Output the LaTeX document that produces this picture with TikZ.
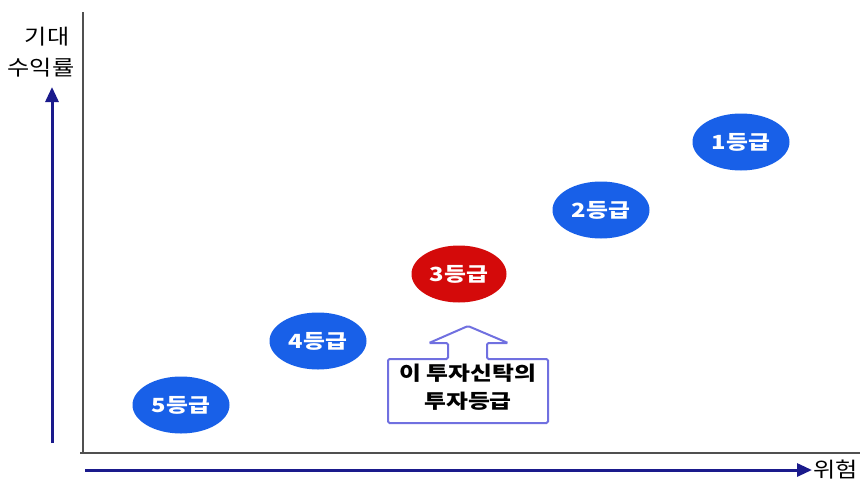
\documentclass[tikz,border=0pt]{standalone}
\usepackage{fontspec}
\newfontfamily\kr{Noto Sans CJK KR}[FakeStretch=1.15]
\newfontfamily\krw{Noto Sans CJK KR}[FakeStretch=1.22]
\usetikzlibrary{arrows.meta,shapes.geometric}
\definecolor{gradeblue}{RGB}{24,96,232}
\definecolor{gradered}{RGB}{212,10,10}
\definecolor{navy}{RGB}{26,26,140}
\definecolor{axisgray}{RGB}{80,80,80}
\definecolor{calloutline}{RGB}{112,112,224}
\begin{document}
\begin{tikzpicture}[x=1pt,y=-1pt,
  grade/.style={ellipse,fill=gradeblue,minimum width=97pt,minimum height=57pt,inner sep=0pt,
    text=white,font=\krw\bfseries\fontsize{19.5}{20}\selectfont},
  axisline/.style={draw=axisgray,line width=1.8pt},
  riskarrow/.style={draw=navy,line width=3pt,-{Triangle[length=15pt,width=13pt]}},
  axislabel/.style={font=\kr\fontsize{21}{22}\selectfont,inner sep=0pt},
  callout/.style={draw=calloutline,line width=2pt,fill=white,rounded corners=1.5pt}]
\useasboundingbox (0,0) rectangle (860,483);
% axes
\coordinate (ytop) at (83,12);
\coordinate (origin) at (83,453);
\coordinate (xend) at (860,453);
\coordinate (xstart) at (80,453);
\draw[axisline] (ytop) -- (origin);
\draw[axisline] (xstart) -- (xend);
% risk/return arrows
\coordinate (ua) at (52,443);
\coordinate (ub) at (52,87);
\draw[riskarrow] (ua) -- (ub);
\coordinate (ra) at (85,470);
\coordinate (rb) at (812,470);
\draw[riskarrow] (ra) -- (rb);
\node[axislabel] (ylab1) at (47,37) {기대};
\node[axislabel] (ylab2) at (41,68) {수익률};
\node[axislabel,anchor=west] (xlab) at (813,470) {위험};
% grades
\node[grade] (g5) at (181,405) {5등급};
\node[grade] (g4) at (318,341) {4등급};
\node[grade,fill=gradered,minimum width=95pt] (g3) at (459,274) {3등급};
\node[grade] (g2) at (601,210) {2등급};
\node[grade] (g1) at (741,142) {1등급};
% callout
\draw[callout] (388,359) -- (448,359) -- (448,343) -- (429,343) -- (468,326) -- (508,343)
  -- (487,343) -- (487,359) -- (548,359) -- (548,423) -- (388,423) -- cycle;
\node[font=\krw\bfseries\fontsize{19.5}{28}\selectfont,align=center,inner sep=0pt] (note) at (468,387)
  {이 투자신탁의\\투자등급};
\end{tikzpicture}
\end{document}
